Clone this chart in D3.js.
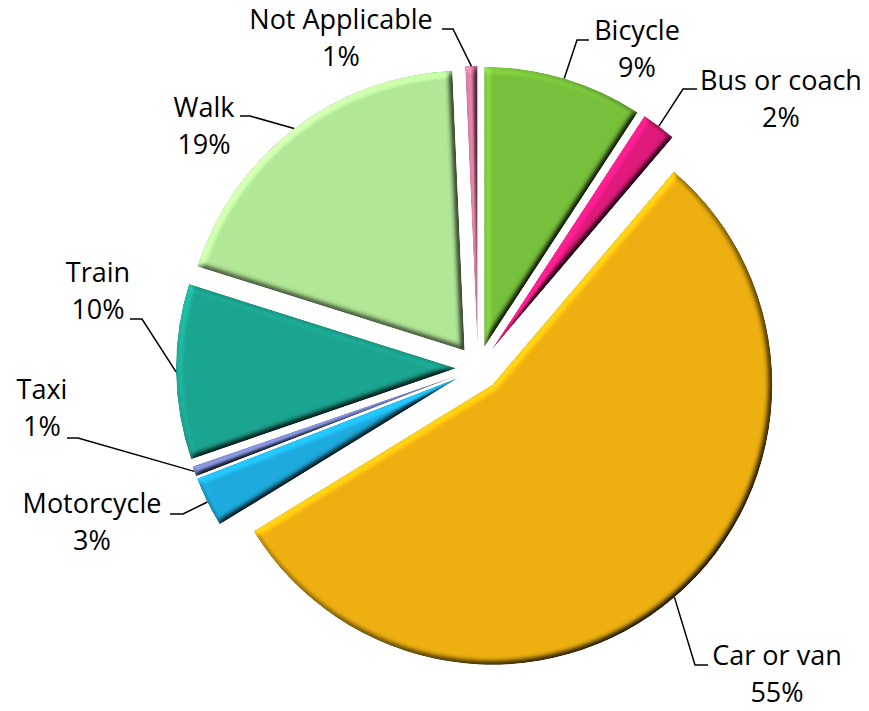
<!DOCTYPE html>
<html>
<head>
<meta charset="utf-8">
<script src="https://cdn.jsdelivr.net/npm/d3@7"></script>
<style>
  body { margin: 0; background: #fff; }
  .label { font-family: "Open Sans", sans-serif; font-size: 27px; fill: #000; }
</style>
</head>
<body>
<div id="chart"></div>
<script>
// data (clockwise from 12 o'clock)
var categories = ["Bicycle", "Bus or coach", "Car or van", "Motorcycle", "Taxi", "Train", "Walk", "Not Applicable"];
var shares = [9.2, 2.0, 54.9, 2.9, 0.6, 10.1, 19.4, 0.7];
var colors = ["#77c03b", "#e01a7b", "#eeb010", "#1eaadc", "#7480c2", "#1ba48f", "#b2e797", "#d5789b"];

// label layout: text centre x, first baseline y, leader elbow and end
var labelX = [637, 781, 777, 92, 42, 98, 204, 341];
var labelY = [40, 90, 665, 513, 399, 282, 117, 29];
var elbows = [[577, 40], [683, 89], [695, 665], [183, 514], [78, 438], [142, 319], [250, 116], [453, 29]];
var ends = [[589, 40], [697, 89], [708, 665], [170, 514], [67, 438], [130, 319], [240, 116], [442, 29]];

var svgWidth = 869;
var svgHeight = 711;
var cx = 478, cy = 368;
var radius = 280;
var explode = 22;

var svg = d3.select("#chart")
    .append("svg")
    .attr("width", svgWidth)
    .attr("height", svgHeight);

// bevel-ish lighting filter
var defs = svg.append("defs");
var filter = defs.append("filter")
    .attr("id", "bevel")
    .attr("x", "-10%").attr("y", "-10%")
    .attr("width", "120%").attr("height", "120%")
    .attr("color-interpolation-filters", "sRGB");
filter.append("feGaussianBlur")
    .attr("in", "SourceAlpha")
    .attr("stdDeviation", 3)
    .attr("result", "blur");
var diffuse = filter.append("feDiffuseLighting")
    .attr("in", "blur")
    .attr("surfaceScale", 4.5)
    .attr("diffuseConstant", 1)
    .attr("lighting-color", "#fff")
    .attr("result", "light");
diffuse.append("feDistantLight")
    .attr("azimuth", 225)
    .attr("elevation", 55);
filter.append("feComposite")
    .attr("in", "SourceGraphic")
    .attr("in2", "light")
    .attr("operator", "arithmetic")
    .attr("k1", 1 / Math.sin(55 * Math.PI / 180))
    .attr("k2", 0).attr("k3", 0).attr("k4", 0)
    .attr("result", "shaded");
filter.append("feComposite")
    .attr("in", "shaded")
    .attr("in2", "SourceAlpha")
    .attr("operator", "in");

var pie = d3.pie().sort(null).value(d => d);
var arcs = pie(shares);

var arc = d3.arc()
    .innerRadius(0)
    .outerRadius(radius);

function offset(d) {
    var mid = (d.startAngle + d.endAngle) / 2;
    return [cx + explode * Math.sin(mid), cy - explode * Math.cos(mid)];
}

var chartGroup = svg.append("g");

chartGroup.selectAll("path.slice")
    .data(arcs)
    .enter()
    .append("path")
    .attr("class", "slice")
    .attr("transform", d => {
        var o = offset(d);
        return `translate(${o[0]}, ${o[1]})`;
    })
    .attr("d", arc)
    .attr("fill", (d, i) => colors[i])
    .attr("filter", "url(#bevel)");

// leader lines
chartGroup.selectAll("path.leader")
    .data(arcs)
    .enter()
    .append("path")
    .attr("class", "leader")
    .attr("fill", "none")
    .attr("stroke", "#000")
    .attr("stroke-width", 1.5)
    .attr("d", (d, i) => {
        var o = offset(d);
        var mid = (d.startAngle + d.endAngle) / 2;
        var p = [o[0] + radius * Math.sin(mid), o[1] - radius * Math.cos(mid)];
        return d3.line()([p, elbows[i], ends[i]]);
    });

// labels
var labels = chartGroup.selectAll("text.label")
    .data(arcs)
    .enter()
    .append("text")
    .attr("class", "label")
    .attr("text-anchor", "middle")
    .attr("x", (d, i) => labelX[i])
    .attr("y", (d, i) => labelY[i]);

labels.append("tspan")
    .attr("x", (d, i) => labelX[i])
    .text((d, i) => categories[i]);

labels.append("tspan")
    .attr("x", (d, i) => labelX[i])
    .attr("dy", 37)
    .text(d => Math.round(d.value) + "%");
</script>
</body>
</html>
